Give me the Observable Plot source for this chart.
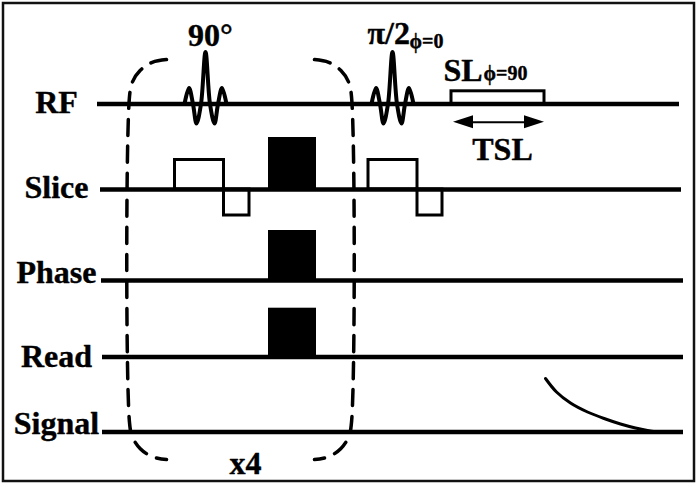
<!DOCTYPE html>
<html><head><meta charset="utf-8">
<script src="https://cdn.jsdelivr.net/npm/d3@7"></script>
<script src="https://cdn.jsdelivr.net/npm/@observablehq/plot@0.6"></script>
<style>body{margin:0;background:#fff}</style>
</head><body><div id="chart"></div>
<script>
// ---- Channels (time lines) ----
const channels      = ["RF", "Slice", "Phase", "Read", "Signal"];
const channelLevel  = [103.5, 189, 280, 356.5, 431.5];
const channelStart  = [97, 100, 101, 102, 102];
const channelEnd    = [679, 681, 683, 683, 683];
const labelBaseline = [112, 197, 282, 366, 433];
const labelCenter   = 56;

// ---- RF sinc pulses: lobe times (relative to pulse centre) and amplitudes ----
const pulseLabels  = ["90°", "π/2"];
const pulseCenter  = [205, 392];
const lobeOffset   = [-21, -16.5, -12.5, -9, -4.5, 0, 4.5, 9, 12.5, 16.5, 21];
const lobeAmp      = [0, 16, 0, -19.5, 0, 52, 0, -19.5, 0, 16, 0];

// ---- Gradient lobes ----
const gradChannel = ["Slice", "Slice", "Slice", "Phase", "Read", "Slice", "Slice"];
const gradStart   = [174.5, 223.5, 268, 268, 268, 368, 417];
const gradEnd     = [223.5, 249, 316, 316, 316, 417, 442];
const gradAmp     = [29.5, -26, 52, 50, 48.8, 29.5, -26];
const gradFilled  = [false, false, true, true, true, false, false];

// ---- Spin-lock pulse ----
const slStart = 451, slEnd = 544, slAmp = 12.7;
const tslLevel = 121.7;

// ---- Signal decay ----
const decayT   = [545, 556, 570, 587, 605, 620, 635, 647, 657];
const decayAmp = [53.5, 40, 29, 20, 13, 8, 4, 1.5, 0];

// ---- Repetition brackets ----
const leftBracketX  = [166, 151.8, 139.8, 131.8, 129, 129, 131.8, 139.8, 151.8, 166];
const leftBracketY  = [59, 61.8, 69.8, 81.8, 96, 422, 436.2, 448.2, 456.2, 459];
const rightBracketX = [314, 328.2, 340.2, 348.2, 351, 351, 348.2, 340.2, 328.2, 314];
const rightBracketY = [59, 61.8, 69.8, 81.8, 96, 422, 436.2, 448.2, 456.2, 459];

// ---- Annotations ----
const annotations = [
  {text: "90°", x: 210, y: 45, anchor: "middle", size: 32},
  {text: "π/2", x: 367, y: 43, anchor: "start", size: 32},
  {text: "ϕ=0", x: 409, y: 47, anchor: "start", size: 20},
  {text: "SL", x: 443, y: 80, anchor: "start", size: 32},
  {text: "ϕ=90", x: 483, y: 79, anchor: "start", size: 20},
  {text: "TSL", x: 502, y: 159, anchor: "middle", size: 32},
  {text: "x4", x: 245, y: 473, anchor: "middle", size: 32}
];

const level = Object.fromEntries(channels.map((c, i) => [c, channelLevel[i]]));

const baselines = channels.map((c, i) => ({c, x1: channelStart[i], x2: channelEnd[i], y: channelLevel[i]}));
const labels = channels.map((c, i) => ({c, x: labelCenter, y: labelBaseline[i]}));
const pulses = pulseCenter.flatMap((pc, p) => lobeOffset.map((o, k) => ({p, x: pc + o, y: level.RF - lobeAmp[k]})));
const grads = gradChannel.map((c, i) => ({
  x1: gradStart[i], x2: gradEnd[i],
  y1: level[c], y2: level[c] - gradAmp[i], filled: gradFilled[i]
}));
const decay = decayT.map((t, i) => ({x: t, y: level.Signal - decayAmp[i]}));
const brackets = [
  ...leftBracketX.map((x, i) => ({b: "L", x, y: leftBracketY[i]})),
  ...rightBracketX.map((x, i) => ({b: "R", x, y: rightBracketY[i]}))
];
const headLen = 20, headHalf = 6.5;
const heads = [
  {h: 0, x: slStart + 2, y1: tslLevel, y2: tslLevel}, {h: 0, x: slStart + 2 + headLen, y1: tslLevel - headHalf, y2: tslLevel + headHalf},
  {h: 1, x: slEnd - headLen, y1: tslLevel - headHalf, y2: tslLevel + headHalf}, {h: 1, x: slEnd, y1: tslLevel, y2: tslLevel}
];
const shaft = [{x1: slStart + 10, x2: slEnd - 10, y: tslLevel}];

const font = "Liberation Serif, Times New Roman, serif";

const chart = Plot.plot({
  width: 697, height: 484,
  margin: 0,
  x: {domain: [0, 697], range: [0, 697], axis: null},
  y: {domain: [0, 484], range: [0, 484], axis: null},
  style: {background: "white"},
  marks: [
    // frame
    Plot.rect([{x1: 3, x2: 694, y1: 3, y2: 481}], {x1: "x1", x2: "x2", y1: "y1", y2: "y2", fill: "none", stroke: "#111", strokeWidth: 2.5}),
    // gradient lobes
    Plot.rect(grads.filter(d => d.filled), {x1: "x1", x2: "x2", y1: "y1", y2: "y2", fill: "black"}),
    Plot.rect(grads.filter(d => !d.filled), {x1: "x1", x2: "x2", y1: "y1", y2: "y2", fill: "white", stroke: "black", strokeWidth: 3}),
    // spin-lock box
    Plot.rect([{x1: slStart, x2: slEnd, y1: level.RF, y2: level.RF - slAmp}], {x1: "x1", x2: "x2", y1: "y1", y2: "y2", fill: "white", stroke: "black", strokeWidth: 3}),
    // channel baselines
    Plot.ruleY(baselines, {x1: "x1", x2: "x2", y: "y", stroke: "black", strokeWidth: 4.5}),
    // RF pulses
    Plot.line(pulses, {x: "x", y: "y", z: "p", curve: "catmull-rom", stroke: "black", strokeWidth: 4}),
    // TSL arrow
    Plot.ruleY(shaft, {x1: "x1", x2: "x2", y: "y", stroke: "black", strokeWidth: 2}),
    Plot.areaY(heads, {x: "x", y1: "y1", y2: "y2", z: "h", fill: "black"}),
    // signal decay
    Plot.line(decay, {x: "x", y: "y", curve: "catmull-rom", stroke: "black", strokeWidth: 3}),
    // repetition brackets
    Plot.line(brackets, {x: "x", y: "y", z: "b", curve: "catmull-rom", stroke: "black", strokeWidth: 3.5, strokeDasharray: "16,11"}),
    // channel labels
    Plot.text(labels, {x: "x", y: "y", text: "c", textAnchor: "middle", lineAnchor: "bottom",
      fontFamily: font, fontWeight: "bold", fontSize: 32, fill: "black", stroke: "black", strokeWidth: 0.4}),
    // annotations
    ...annotations.map(a => Plot.text([a], {x: "x", y: "y", text: "text", textAnchor: a.anchor, lineAnchor: "bottom",
      fontFamily: font, fontWeight: "bold", fontSize: a.size, fill: "black", stroke: "black", strokeWidth: 0.4}))
  ]
});
document.getElementById("chart").appendChild(chart);
</script>
</body></html>
